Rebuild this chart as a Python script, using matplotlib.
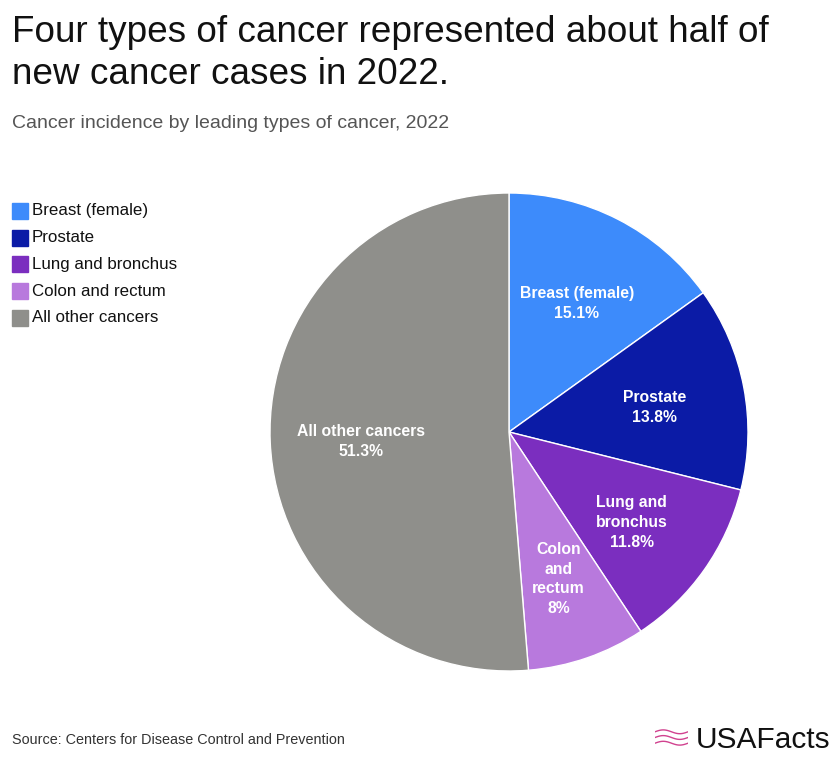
import matplotlib.pyplot as plt
import numpy as np
from matplotlib.patches import Rectangle

plt.rcParams['font.family'] = ['Liberation Sans', 'DejaVu Sans']

# data
categories = ['Breast (female)', 'Prostate', 'Lung and bronchus', 'Colon and rectum', 'All other cancers']
slice_labels = ['Breast (female)', 'Prostate', 'Lung and\nbronchus', 'Colon\nand\nrectum', 'All other cancers']
shares = [15.1, 13.8, 11.8, 8.0, 51.3]
pct_text = ['15.1%', '13.8%', '11.8%', '8%', '51.3%']
colors = ['#3d8bfb', '#0b1ba6', '#7b2ebf', '#b879dd', '#8f8f8b']

W, H = 840, 764
fig = plt.figure(figsize=(W / 100, H / 100), dpi=100)

# titles
fig.text(12 / W, 1 - 33 / H, 'Four types of cancer represented about half of',
         fontsize=26.6, va='center', ha='left', color='#111111')
fig.text(12 / W, 1 - 74 / H, 'new cancer cases in 2022.',
         fontsize=26.6, va='center', ha='left', color='#111111')
fig.text(12 / W, 1 - 124 / H, 'Cancer incidence by leading types of cancer, 2022',
         fontsize=14, va='center', ha='left', color='#555555')

# legend
leg_y = [211, 238, 264, 291, 318]
for name, c, y in zip(categories, colors, leg_y):
    fig.patches.append(Rectangle((12 / W, 1 - (y + 8) / H), 16 / W, 16 / H,
                                 transform=fig.transFigure, color=c))
    fig.text(32 / W, 1 - y / H, name, fontsize=12.2, va='center', ha='left', color='#111111')

# pie
cx, cy, r = 509, 432, 239
ax = fig.add_axes([(cx - r) / W, 1 - (cy + r) / H, 2 * r / W, 2 * r / H])
wedges, _ = ax.pie(shares, colors=colors, startangle=90, counterclock=False,
                   wedgeprops=dict(linewidth=1, edgecolor='white'))
ax.set_xlim(-1, 1)
ax.set_ylim(-1, 1)
ax.set_aspect('equal')
ax.axis('off')

dist = [0.62, 0.62, 0.63, 0.635, 0.62]
for w, lab, p, d in zip(wedges, slice_labels, pct_text, dist):
    ang = np.deg2rad((w.theta1 + w.theta2) / 2)
    ax.text(d * np.cos(ang), d * np.sin(ang) - 0.015, lab + '\n' + p, ha='center', va='center',
            color='white', fontsize=11.3, fontweight='bold', linespacing=1.4)

# footer
fig.text(12 / W, 1 - 740 / H, 'Source: Centers for Disease Control and Prevention',
         fontsize=10.4, va='center', ha='left', color='#333333')
fig.text(830 / W, 1 - 740 / H, 'USAFacts', fontsize=21.5, va='center', ha='right',
         color='#111111')
# small pink flag-like mark next to the logo text
lx = fig.add_axes([655 / W, 1 - 747 / H, 33 / W, 19 / H])
t = np.linspace(0, 1, 30)
for off in [0.2, 0.5, 0.8]:
    lx.plot(t, off + 0.1 * np.sin(t * 2 * np.pi), color='#d1428f', lw=1)
lx.set_xlim(0, 1)
lx.set_ylim(0, 1)
lx.axis('off')

fig.savefig('out.png', dpi=100, facecolor='white')
